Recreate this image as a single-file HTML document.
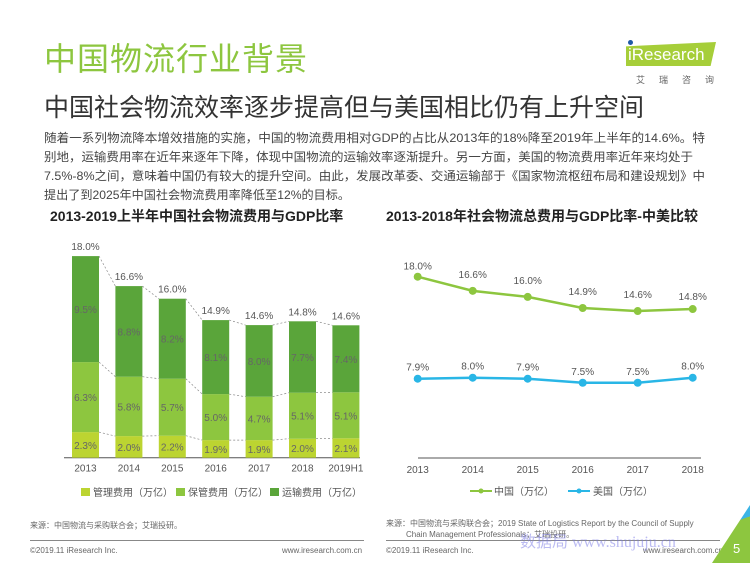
<!DOCTYPE html>
<html><head><meta charset="utf-8">
<style>
body{margin:0;width:750px;height:563px;background:#fff;position:relative;overflow:hidden;font-family:"Liberation Sans","Noto Sans CJK SC",sans-serif;}
.a{position:absolute;white-space:nowrap;}
</style></head><body>
<div class="a" style="left:44px;top:34px;font-size:32px;color:#8dc63f;letter-spacing:1px;">中国物流行业背景</div>
<div class="a" style="left:44px;top:88px;font-size:25px;color:#333;">中国社会物流效率逐步提高但与美国相比仍有上升空间</div>
<svg class="a" style="left:0;top:125px" width="750" height="80" font-family="Liberation Sans, Noto Sans CJK SC, sans-serif" font-size="12" fill="#444">
<text x="44" y="17" textLength="661" lengthAdjust="spacingAndGlyphs">随着一系列物流降本增效措施的实施，中国的物流费用相对GDP的占比从2013年的18%降至2019年上半年的14.6%。特</text>
<text x="44" y="36" textLength="649" lengthAdjust="spacingAndGlyphs">别地，运输费用率在近年来逐年下降，体现中国物流的运输效率逐渐提升。另一方面，美国的物流费用率近年来均处于</text>
<text x="44" y="55" textLength="661" lengthAdjust="spacingAndGlyphs">7.5%-8%之间，意味着中国仍有较大的提升空间。由此，发展改革委、交通运输部于《国家物流枢纽布局和建设规划》中</text>
<text x="44" y="74" textLength="306" lengthAdjust="spacingAndGlyphs">提出了到2025年中国社会物流费用率降低至12%的目标。</text>
</svg>
<div class="a" style="left:50px;top:206px;font-size:14px;font-weight:bold;color:#222;">2013-2019上半年中国社会物流费用与GDP比率</div>
<div class="a" style="left:386px;top:206px;font-size:14px;font-weight:bold;color:#222;">2013-2018年社会物流总费用与GDP比率-中美比较</div>
<div class="a" style="left:618px;top:38px;">
<div style="position:absolute;left:8px;top:4px;width:90px;height:24px;background:#a6ce39;clip-path:polygon(0 18%,100% 0,94% 100%,0 100%);"></div>
<div style="position:absolute;left:10px;top:2px;width:5px;height:5px;border-radius:50%;background:#1f5aa6;"></div>
<div class="a" style="left:10px;top:7px;font-size:17px;color:#fff;">iResearch</div>
<div class="a" style="left:18px;top:35px;font-size:9px;color:#666;letter-spacing:14px;">艾瑞咨询</div>
</div>
<svg id="chart" class="a" style="left:0;top:0" width="750" height="563"></svg>
<div class="a" style="left:30px;top:520px;font-size:8px;color:#666;">来源：中国物流与采购联合会；艾瑞投研。</div>
<div class="a" style="left:386px;top:518px;font-size:8px;color:#666;line-height:11px;">来源：中国物流与采购联合会；2019 State of Logistics Report by the Council of Supply<br>&nbsp;&nbsp;&nbsp;&nbsp;&nbsp;&nbsp;&nbsp;&nbsp;&nbsp;Chain Management Professionals；艾瑞投研。</div>
<div class="a" style="left:30px;top:540px;width:334px;height:1px;background:#888;"></div>
<div class="a" style="left:386px;top:540px;width:334px;height:1px;background:#888;"></div>
<div class="a" style="left:30px;top:546px;font-size:8px;color:#666;">©2019.11 iResearch Inc.</div>
<div class="a" style="left:282px;top:546px;font-size:8px;color:#666;">www.iresearch.com.cn</div>
<div class="a" style="left:386px;top:546px;font-size:8px;color:#666;">©2019.11 iResearch Inc.</div>
<div class="a" style="left:643px;top:546px;font-size:8px;color:#666;">www.iresearch.com.cn</div>
<div class="a" style="left:520px;top:528px;font-size:16px;color:rgba(120,120,230,0.5);font-family:'Liberation Serif',serif;">数据局 www.shujuju.cn</div>
<div class="a" style="left:712px;top:505px;width:38px;height:58px;background:linear-gradient(160deg,#3bb4e5 0 35%,#8dc63f 35%);clip-path:polygon(100% 0,100% 100%,0 100%);"></div>
<div class="a" style="left:733px;top:541px;font-size:13px;color:#fff;">5</div>
<script>
const barCats=["2013","2014","2015","2016","2017","2018","2019H1"];
const mgmtVal=[1.28,1.08,1.1,0.88,0.88,0.95,0.97];
const storVal=[3.5,2.97,2.85,2.3,2.17,2.3,2.3];
const tranVal=[5.3,4.53,4.0,3.7,3.58,3.57,3.35];
const mgmtPct=["2.3%","2.0%","2.2%","1.9%","1.9%","2.0%","2.1%"];
const storPct=["6.3%","5.8%","5.7%","5.0%","4.7%","5.1%","5.1%"];
const tranPct=["9.5%","8.8%","8.2%","8.1%","8.0%","7.7%","7.4%"];
const totPct=["18.0%","16.6%","16.0%","14.9%","14.6%","14.8%","14.6%"];
const lineCats=["2013","2014","2015","2016","2017","2018"];
const chinaVal=[18.0,16.6,16.0,14.9,14.6,14.8];
const usVal=[7.9,8.0,7.9,7.5,7.5,8.0];

const svg=document.getElementById('chart');
const NS='http://www.w3.org/2000/svg';
function mk(t,a,p){const e=document.createElementNS(NS,t);for(const k in a)e.setAttribute(k,a[k]);(p||svg).appendChild(e);return e;}
function tx(x,y,s,o){const e=mk('text',Object.assign({x:x,y:y,'text-anchor':'middle','font-size':10,fill:'#555','font-family':'Liberation Sans, Noto Sans CJK SC, sans-serif'},o||{}));e.textContent=s;return e;}

const bx=i=>85.5+i*43.4, base=457.7, sc=20, bw=27;
const by=v=>base-v*sc;
const cols=["#bcd431","#8dc63f","#5aa53a"];
mk('line',{x1:64,x2:360,y1:base,y2:base,stroke:'#555','stroke-width':1});
const tops=[];
barCats.forEach((c,i)=>{
  const segs=[mgmtVal[i],storVal[i],tranVal[i]];const labs=[mgmtPct[i],storPct[i],tranPct[i]];
  let acc=0;const bounds=[];
  segs.forEach((v,j)=>{
    const r=mk('rect',{x:bx(i)-bw/2,y:by(acc+v),width:bw,height:v*sc,fill:cols[j]});
    
    
    tx(bx(i),by(acc+v/2)+4,labs[j],{fill:'#666'});
    acc+=v;bounds.push(acc);
  });
  tops.push(bounds);
  tx(bx(i),by(acc)-6,totPct[i]);
  tx(bx(i),base+14,c);
});
for(let i=0;i<barCats.length-1;i++){
  for(let j=0;j<3;j++){
    mk('line',{x1:bx(i)+bw/2,x2:bx(i+1)-bw/2,y1:by(tops[i][j]),y2:by(tops[i+1][j]),stroke:'#888','stroke-width':0.7,'stroke-dasharray':'2,2'});
  }
}
const lg=[["管理费用（万亿）",81],["保管费用（万亿）",176],["运输费用（万亿）",270]];
lg.forEach((l,j)=>{const r=mk('rect',{x:l[1],y:488,width:9,height:8,fill:cols[j]});

tx(l[1]+12,496,l[0],{'text-anchor':'start',fill:'#555','font-size':10});});

const lx=i=>417.7+i*55, ly=v=>458.5-v*10.1;
mk('line',{x1:418,x2:701,y1:458,y2:458,stroke:'#555','stroke-width':1});
lineCats.forEach((c,i)=>tx(lx(i),473,c));
function series(vals,col,name,off){
  const p=mk('polyline',{points:vals.map((v,i)=>lx(i)+','+ly(v)).join(' '),fill:'none',stroke:col,'stroke-width':2.5});
  
  vals.forEach((v,i)=>{const d=mk('circle',{cx:lx(i),cy:ly(v),r:4,fill:col});
    
    tx(lx(i),ly(v)-off(i),v.toFixed(1)+'%');});
}
series(chinaVal,'#8dc63f','china',i=>i==0?7:(i==5?9:13));
series(usVal,'#29b6e6','us',i=>8);
mk('line',{x1:470,x2:492,y1:491,y2:491,stroke:'#8dc63f','stroke-width':2});
mk('circle',{cx:481,cy:491,r:2.5,fill:'#8dc63f'});
tx(494,495,'中国（万亿）',{'text-anchor':'start'});
mk('line',{x1:568,x2:590,y1:491,y2:491,stroke:'#29b6e6','stroke-width':2});
mk('circle',{cx:579,cy:491,r:2.5,fill:'#29b6e6'});
tx(593,495,'美国（万亿）',{'text-anchor':'start'});
</script>
</body></html>
